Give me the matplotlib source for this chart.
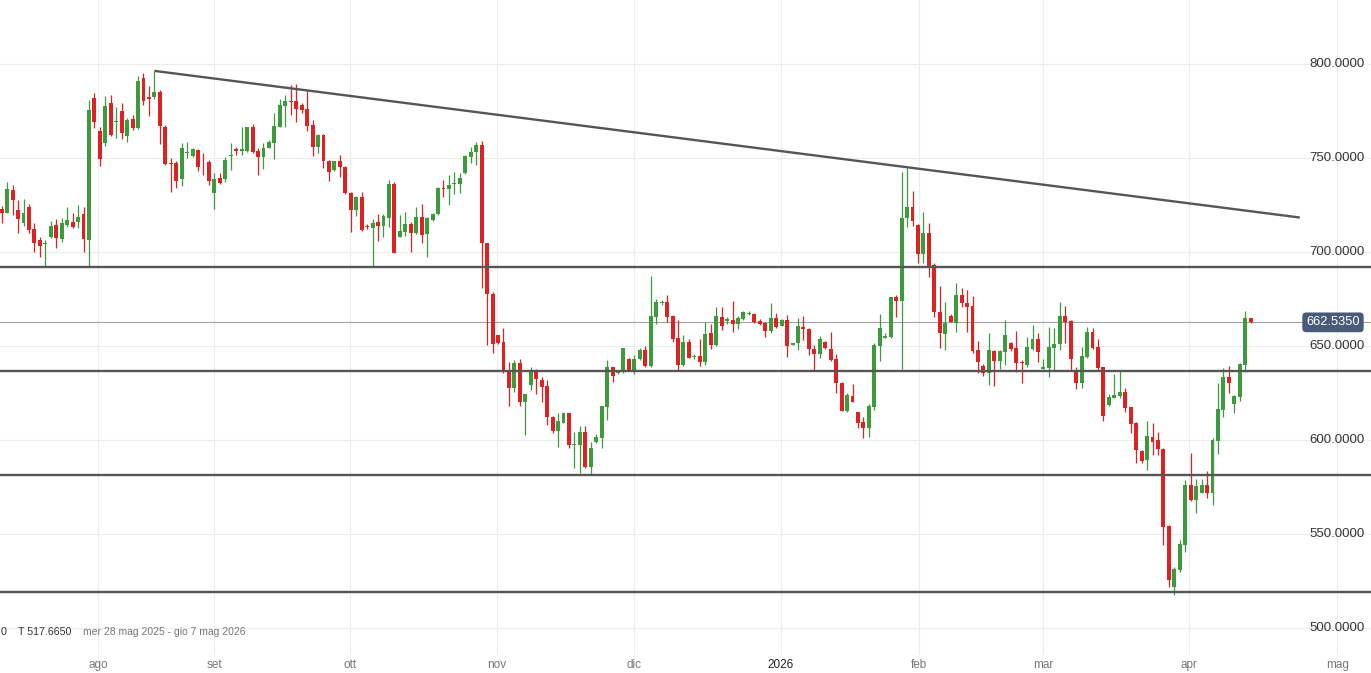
import matplotlib
matplotlib.use("Agg")
import matplotlib.pyplot as plt
import matplotlib.transforms as mtransforms

plt.rcParams['font.family'] = ['Liberation Sans', 'DejaVu Sans']

# daily candles (oldest first)
opens = [
    722.7, 720.9, 733.0, 722.3, 715.3, 724.1, 712.2, 706.2, 704.3, 708.2,
    714.4, 706.9, 714.4, 715.8, 716.1, 720.2, 706.4, 781.7, 764.4, 758.2,
    779.1, 769.2, 775.2, 761.4, 770.6, 765.8, 792.4, 782.3, 782.6, 785.3,
    766.7, 747.5, 747.2, 738.7, 752.8, 751.2, 754.3, 750.0, 747.7, 731.2,
    739.5, 738.7, 750.9, 754.6, 753.9, 753.9, 766.7, 753.9, 750.7, 755.5,
    758.2, 766.7, 777.8, 780.1, 780.3, 778.2, 776.1, 767.6, 756.0, 762.2,
    748.4, 743.6, 748.1, 745.4, 731.6, 722.3, 729.4, 713.8, 712.9, 715.8,
    714.0, 717.9, 736.2, 708.2, 710.8, 714.7, 709.9, 718.4, 709.4, 717.0,
    720.0, 733.9, 733.3, 736.0, 736.2, 741.8, 750.7, 753.0, 756.9, 704.6,
    677.6, 655.8, 651.9, 636.9, 627.5, 640.8, 620.0, 629.2, 637.2, 631.9,
    628.7, 612.4, 604.9, 609.2, 614.2, 597.2, 597.3, 604.1, 585.8, 599.1,
    600.9, 617.7, 638.7, 635.5, 636.3, 643.1, 637.2, 642.9, 647.9, 639.4,
    665.6, 672.7, 673.2, 665.9, 654.1, 639.9, 651.9, 643.9, 644.9, 641.7,
    656.7, 650.5, 665.6, 663.5, 663.8, 661.7, 664.3, 667.0, 667.0, 663.5,
    662.4, 658.2, 664.7, 660.8, 663.8, 650.7, 651.4, 659.9, 659.0, 648.2,
    645.7, 652.3, 648.2, 642.9, 630.1, 615.6, 623.6, 614.7, 609.4, 606.6,
    617.7, 650.2, 654.4, 654.6, 676.2, 674.1, 717.9, 723.8, 714.4, 698.9,
    709.9, 693.1, 668.2, 656.4, 665.9, 662.4, 677.1, 673.0, 671.2, 647.9,
    639.5, 635.8, 647.3, 642.2, 647.0, 651.8, 648.8, 641.7, 639.9, 648.2,
    653.5, 637.8, 638.1, 648.8, 651.1, 666.0, 663.5, 636.7, 630.5, 644.0,
    657.6, 649.3, 638.6, 618.6, 622.5, 623.6, 625.3, 617.4, 609.2, 594.1,
    589.4, 601.4, 600.0, 595.2, 554.3, 522.0, 530.9, 544.1, 576.1, 568.1,
    572.0, 576.1, 571.6, 599.5, 616.0, 633.3, 619.1, 623.0, 639.9, 664.7,
]
highs = [
    724.5, 737.4, 735.5, 727.7, 728.0, 725.5, 715.3, 708.2, 706.4, 716.5,
    717.4, 717.9, 724.1, 720.9, 725.0, 724.1, 780.9, 784.4, 766.7, 783.0,
    783.5, 777.3, 779.4, 771.1, 772.9, 793.6, 795.0, 788.0, 796.3, 786.2,
    767.6, 749.7, 748.1, 758.2, 758.7, 755.1, 754.6, 752.5, 748.9, 741.9,
    741.9, 750.7, 757.8, 755.7, 766.7, 766.7, 768.1, 755.1, 757.8, 759.6,
    773.8, 781.2, 783.5, 788.8, 789.4, 779.1, 785.6, 770.2, 762.8, 762.8,
    748.9, 748.4, 751.4, 745.8, 732.1, 729.8, 731.7, 714.9, 717.4, 720.2,
    720.2, 738.3, 737.4, 719.7, 721.1, 716.1, 723.8, 725.4, 718.8, 720.6,
    734.4, 738.3, 741.0, 742.4, 742.2, 751.6, 756.0, 758.7, 759.2, 704.9,
    678.5, 656.0, 659.4, 641.7, 642.5, 642.9, 624.5, 639.0, 637.6, 633.7,
    631.9, 612.8, 614.2, 614.5, 614.5, 604.1, 607.6, 607.6, 599.1, 603.2,
    618.1, 642.6, 639.0, 637.2, 648.7, 643.8, 645.2, 648.7, 650.0, 687.2,
    674.8, 674.5, 677.1, 666.5, 663.8, 655.8, 653.7, 645.6, 653.5, 662.6,
    661.5, 670.9, 670.9, 665.2, 674.1, 665.9, 668.6, 668.6, 667.7, 664.2,
    662.9, 673.0, 667.7, 664.2, 666.5, 651.4, 664.7, 666.0, 659.8, 650.5,
    655.3, 652.7, 657.3, 645.7, 630.7, 624.8, 629.6, 615.1, 612.4, 619.2,
    651.4, 667.0, 656.7, 676.2, 677.1, 742.7, 744.5, 732.4, 714.9, 721.4,
    715.2, 694.0, 681.9, 673.2, 666.8, 683.7, 680.7, 679.8, 676.8, 652.8,
    640.2, 657.1, 647.9, 647.9, 663.8, 652.3, 658.0, 642.5, 655.0, 661.2,
    656.7, 642.9, 659.9, 659.4, 673.2, 671.3, 663.8, 638.6, 649.3, 660.3,
    659.4, 653.5, 639.0, 624.5, 635.1, 637.2, 627.5, 617.7, 609.7, 594.7,
    610.1, 608.9, 604.1, 595.6, 554.8, 532.6, 546.8, 578.7, 592.9, 579.1,
    579.1, 583.7, 600.9, 630.1, 638.1, 639.4, 623.9, 641.1, 668.6, 665.1,
]
lows = [
    715.6, 720.6, 719.7, 710.3, 714.0, 709.9, 700.2, 697.5, 692.2, 707.3,
    702.0, 705.5, 713.5, 712.9, 712.6, 700.2, 692.2, 765.8, 745.8, 756.6,
    761.4, 760.5, 760.1, 758.7, 764.9, 765.5, 778.2, 772.3, 781.2, 757.3,
    746.3, 731.7, 733.9, 734.8, 749.8, 750.7, 743.1, 741.0, 735.6, 722.7,
    736.2, 737.1, 743.6, 751.6, 751.6, 753.4, 752.8, 741.0, 744.2, 755.1,
    749.5, 766.3, 766.7, 772.9, 769.3, 773.8, 764.5, 751.2, 752.8, 744.9,
    737.9, 743.3, 739.7, 730.9, 710.8, 719.2, 711.0, 712.1, 691.9, 706.0,
    708.2, 713.5, 699.3, 708.0, 708.5, 700.2, 709.4, 704.6, 697.5, 716.7,
    719.7, 729.4, 724.7, 730.7, 731.6, 741.5, 747.2, 746.3, 680.7, 650.5,
    646.5, 651.2, 635.5, 618.1, 625.7, 618.1, 602.7, 626.6, 624.5, 620.4,
    608.0, 603.9, 596.5, 608.9, 595.6, 584.9, 582.3, 584.9, 581.4, 598.6,
    595.6, 610.6, 631.0, 634.9, 635.5, 636.9, 635.1, 642.5, 639.0, 638.7,
    661.7, 671.8, 662.9, 652.3, 636.7, 639.4, 643.4, 643.2, 639.5, 639.9,
    648.2, 650.2, 658.5, 661.7, 657.6, 658.9, 663.8, 666.5, 662.1, 661.2,
    654.9, 657.1, 659.4, 660.6, 644.3, 650.4, 647.9, 653.2, 645.2, 636.9,
    643.4, 648.4, 642.2, 625.2, 615.3, 615.1, 620.0, 606.2, 600.9, 601.4,
    616.0, 642.0, 654.1, 654.1, 665.6, 637.6, 713.1, 714.0, 694.0, 694.0,
    686.9, 665.6, 648.7, 647.9, 662.6, 657.6, 670.9, 657.6, 646.1, 635.5,
    634.2, 629.2, 628.9, 637.8, 639.9, 647.5, 636.3, 630.1, 639.0, 647.9,
    641.7, 637.6, 633.3, 636.9, 647.9, 651.4, 636.9, 627.1, 627.5, 643.4,
    648.4, 637.2, 610.3, 618.3, 622.2, 622.2, 615.1, 603.5, 587.9, 587.9,
    584.0, 592.0, 592.0, 544.1, 522.0, 517.665, 530.0, 540.6, 567.7, 561.0,
    571.6, 569.0, 565.4, 592.5, 612.4, 625.2, 614.5, 620.9, 636.3, 662.3,
]
closes = [
    720.6, 733.3, 727.7, 717.4, 720.9, 711.4, 704.6, 703.2, 705.0, 713.8,
    707.3, 715.3, 717.0, 713.5, 718.6, 706.7, 775.5, 769.3, 749.5, 777.7,
    762.2, 769.5, 763.5, 770.2, 765.8, 791.0, 780.5, 781.2, 785.1, 767.2,
    746.6, 747.0, 737.9, 755.2, 753.2, 754.6, 745.4, 749.7, 737.9, 738.7,
    736.5, 748.9, 751.2, 753.9, 754.8, 766.3, 753.4, 750.7, 755.5, 758.7,
    767.0, 778.2, 780.5, 779.8, 776.1, 775.5, 767.2, 756.0, 762.2, 748.1,
    742.7, 748.1, 745.0, 731.2, 722.3, 729.4, 711.4, 713.3, 715.6, 714.0,
    719.2, 736.2, 699.6, 711.2, 714.7, 710.3, 718.4, 709.0, 718.3, 720.0,
    734.2, 733.3, 735.6, 736.5, 739.2, 751.1, 753.4, 756.9, 704.6, 677.5,
    650.9, 651.4, 636.4, 627.5, 640.8, 620.0, 624.3, 636.9, 632.3, 628.4,
    612.1, 604.9, 610.3, 614.2, 597.3, 597.9, 604.1, 585.5, 595.6, 601.4,
    618.1, 638.7, 634.2, 636.3, 648.7, 637.2, 643.1, 647.9, 639.4, 665.9,
    673.2, 673.6, 665.6, 653.5, 639.9, 651.9, 643.8, 644.9, 641.7, 656.4,
    650.5, 665.9, 660.8, 664.3, 661.7, 664.7, 667.9, 667.7, 662.9, 661.7,
    658.2, 664.7, 659.9, 663.8, 650.2, 651.4, 660.8, 658.9, 648.2, 645.7,
    653.5, 648.7, 642.6, 630.1, 615.6, 623.9, 620.4, 609.2, 606.6, 618.1,
    650.5, 659.4, 655.3, 675.9, 674.1, 717.9, 723.8, 716.7, 698.9, 709.9,
    692.2, 667.9, 656.7, 662.0, 662.9, 677.1, 672.7, 670.9, 647.3, 641.3,
    635.5, 647.9, 642.2, 647.3, 655.8, 648.4, 641.1, 640.8, 649.3, 653.5,
    647.0, 638.6, 649.3, 651.1, 666.0, 662.9, 643.1, 630.5, 644.7, 657.6,
    648.8, 638.1, 612.8, 623.0, 623.9, 625.3, 617.2, 608.5, 594.7, 588.8,
    602.1, 599.1, 595.0, 553.9, 525.5, 531.2, 544.7, 576.1, 568.1, 575.7,
    576.1, 571.6, 600.0, 616.5, 633.3, 630.5, 623.6, 640.4, 664.7, 662.535,
]

# drawn annotations: support/resistance levels and the falling trend line
levels = [691.9, 636.5, 581.2, 519.0]
trend_idx = [28, 238]
trend_val = [796.3, 718.3]
last_price = 662.535

price_ticks = [500, 550, 600, 650, 700, 750, 800]
month_labels = ["ago", "set", "ott", "nov", "dic", "2026", "feb", "mar", "apr", "mag"]
month_pos = [17.7, 39.0, 63.9, 90.8, 115.9, 142.8, 168.1, 191.0, 217.7, 244.9]

low_text = "T 517.6650"
range_text = "mer 28 mag 2025 - gio 7 mag 2026"

GREEN = "#3d9b3d"
RED = "#dc2222"
LINE = "#555555"

W, H = 1371, 673
fig = plt.figure(figsize=(W / 100, H / 100), dpi=100)
ax = fig.add_axes([0, 18 / H, 1, 655 / H])

n = len(opens)
xs = list(range(n))
cols = [GREEN if c >= o else RED for o, c in zip(opens, closes)]
hi = [max(h, o, c) for h, o, c in zip(highs, opens, closes)]
lo = [min(l, o, c) for l, o, c in zip(lows, opens, closes)]
bottoms = [min(o, c) for o, c in zip(opens, closes)]
heights = [max(abs(c - o), 0.5) for o, c in zip(opens, closes)]

ax.vlines(xs, lo, hi, colors=cols, linewidth=0.9, zorder=3)
ax.bar(xs, heights, bottom=bottoms, width=0.72, color=cols, linewidth=0, zorder=4)

for lv in levels:
    ax.axhline(lv, color=LINE, linewidth=1.7, zorder=5)
ax.plot(trend_idx, trend_val, color=LINE, linewidth=1.7, zorder=5,
        solid_capstyle='butt')
ax.axhline(last_price, color="#a0a0a0", linewidth=0.8, zorder=2)

ax.set_xlim(-0.31, 251.06)
ax.set_ylim(485.6, 834.0)

ax.set_yticks(price_ticks)
ax.set_xticks(month_pos)
ax.set_xticklabels(month_labels, fontsize=8.5, color="#777777")
ax.get_xticklabels()[5].set_color("#222222")
ax.tick_params(axis='x', length=0, pad=3)
ax.tick_params(axis='y', length=0, labelleft=False, labelright=False)
ax.grid(True, color="#ececec", linewidth=0.8, zorder=0)
ax.set_axisbelow(True)
for s in ax.spines.values():
    s.set_visible(False)

trans = mtransforms.blended_transform_factory(ax.transAxes, ax.transData)
for v in price_ticks:
    ax.text(1365 / W, v, f"{v:.4f}", transform=trans, ha='right', va='center',
            fontsize=9.5, color="#333333", zorder=6)

ax.text(1333 / W, last_price, f"{last_price:.4f}", transform=trans,
        ha='center', va='center', fontsize=9.3, color='white', zorder=7,
        bbox=dict(boxstyle='round,pad=0.3', fc="#4a5b7a", ec='none'))

ax.text(0.5 / W, 0.035, "0", transform=ax.transAxes, ha='left', va='center',
        fontsize=7.7, color="#333333")
ax.text(18 / W, 0.035, low_text, transform=ax.transAxes, ha='left', va='center',
        fontsize=7.7, color="#333333")
ax.text(83 / W, 0.035, range_text, transform=ax.transAxes, ha='left', va='center',
        fontsize=7.5, color="#777777")

fig.savefig("out.png", dpi=100, facecolor='white')
